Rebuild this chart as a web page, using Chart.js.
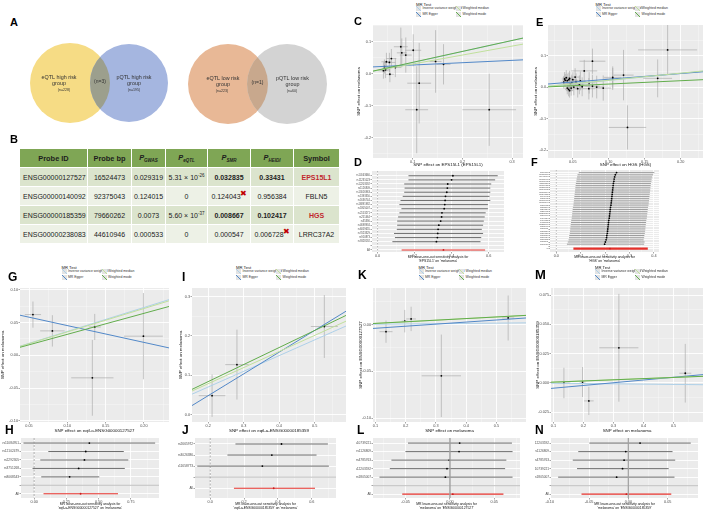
<!DOCTYPE html>
<html>
<head>
<meta charset="utf-8">
<script src="https://cdn.jsdelivr.net/npm/chart.js@4.4.0/dist/chart.umd.min.js"></script>
<style>
body { margin:0; width:708px; height:510px; position:relative; background:#fff; overflow:hidden;
       font-family:"Liberation Sans", Arial, sans-serif; }
canvas { position:absolute; }
.lt { position:absolute; font-weight:bold; font-size:11px; line-height:11px; color:#000; }
#tb { position:absolute; left:19px; top:148px; width:321px; border-collapse:collapse; table-layout:fixed; }
#tb td, #tb th { border:1px solid #fff; text-align:center; font-size:7px; color:#222; padding:0; height:18px; white-space:nowrap; }
#tb th { background:#7fa655; font-weight:bold; font-size:7.4px; color:#1d1d1d; }
#tb tr.o td { background:#dbe4cd; }
#tb tr.e td { background:#edf1e6; }
#tb td.l { text-align:left; padding-left:3px; }
#tb b.red { color:#c1272d; }
#tb .x { color:#c00000; font-size:8px; position:relative; top:-3px; margin-left:-1px; }
#tb sub { font-size:4.5px; font-style:italic; }
#tb sup { font-size:4.5px; }
.leg { position:absolute; width:100px; height:16px; }
.leg div { position:absolute; white-space:nowrap; }
.lgt { font-size:4.2px; color:#222; }
.lgi { font-size:3.4px; color:#333; line-height:5px; }
.lgi span { display:inline-block; width:5px; height:5px; vertical-align:top; margin-right:1.5px; }
</style>
</head>
<body>
<script>
// ---------- data ----------
const vennSets = ['eQTL high risk group', 'pQTL high risk group', 'eQTL low risk group', 'pQTL low risk group'];
const vennN = [228, 195, 223, 60];
const vennShared = [3, 1];

const probeId = ['ENSG00000127527', 'ENSG00000140092', 'ENSG00000185359', 'ENSG00000238083'];
const probeBp = ['16524473', '92375043', '79660262', '44610946'];
const pGwas = ['0.029319', '0.124015', '0.0073', '0.000533'];
const pEqtl = ['5.31 × 10^-26', '0', '5.60 × 10^-37', '0'];
const pSmr = ['0.032835', '0.124043', '0.008667', '0.000547'];
const pHeidi = ['0.33431', '0.956384', '0.102417', '0.006728'];
const symbol = ['EPS15L1', 'FBLN5', 'HGS', 'LRRC37A2'];
const passed = [true, false, true, false];
const failedAt = ['', 'smr', '', 'heidi'];

const MR_METHODS = ['Inverse variance weighted', 'MR Egger', 'Weighted median', 'Weighted mode'];

// C: EPS15L1 -> melanoma
const cX = [0.041, 0.043, 0.045, 0.047, 0.053, 0.057, 0.054, 0.065, 0.076, 0.078, 0.086, 0.101, 0.113, 0.108, 0.146, 0.162, 0.254];
const cY = [0.009, 0.022, 0.012, 0.037, 0.035, 0.047, -0.002, 0.019, 0.084, 0.065, 0.058, 0.073, -0.030, -0.113, 0.038, 0.029, -0.113];
const cXse = [0.010, 0.008, 0.009, 0.010, 0.012, 0.010, 0.008, 0.012, 0.014, 0.010, 0.012, 0.016, 0.024, 0.023, 0.012, 0.014, 0.054];
const cYse = [0.025, 0.022, 0.026, 0.028, 0.030, 0.030, 0.025, 0.030, 0.060, 0.045, 0.055, 0.050, 0.126, 0.136, 0.098, 0.063, 0.113];
const cSlope = [0.345, 0.073, 0.280, 0.342];
const cIcpt = [0.0, 0.0195, 0.002, 0.001];
const cXTicks = [0.1, 0.2, 0.3];
const cYTicks = [-0.2, -0.1, 0.0, 0.1];

// D: leave-one-out EPS15L1
const dSnp = ['rs10163660', 'rs11231023', 'rs12203592', 'rs1126809', 'rs13016963', 'rs1393350', 'rs1636744', 'rs16891982', 'rs1805007',
              'rs2153271', 'rs251464', 'rs35390', 'rs4698934', 'rs6059655', 'rs7023329', 'rs910873', 'rs9328192'];
const dEst = [0.407, 0.400, 0.379, 0.377, 0.374, 0.367, 0.365, 0.363, 0.360, 0.348, 0.346, 0.341, 0.331, 0.327, 0.325, 0.323, 0.318];
const dLo = [0.167, 0.167, 0.144, 0.146, 0.144, 0.136, 0.124, 0.118, 0.129, 0.118, 0.111, 0.106, 0.106, 0.104, 0.089, 0.094, 0.080];
const dHi = [0.649, 0.635, 0.614, 0.609, 0.609, 0.605, 0.609, 0.596, 0.596, 0.584, 0.579, 0.574, 0.570, 0.563, 0.570, 0.560, 0.556];
const dAll = [0.356, 0.130, 0.581];
const dXTicks = [0.0, 0.2, 0.4, 0.6];

// E: HGS -> melanoma
const eX = [0.0373, 0.0386, 0.0395, 0.0409, 0.0423, 0.0445, 0.0455, 0.0423, 0.0441, 0.0455, 0.0465, 0.0477, 0.0486, 0.0500, 0.0514, 0.0532, 0.0545,
            0.0568, 0.0591, 0.0605, 0.0630, 0.0659, 0.0727, 0.0723, 0.0773, 0.0773, 0.0832, 0.0923, 0.1055, 0.1055, 0.1205, 0.1680, 0.1818, 0.1260];
const eY = [0.0164, 0.0267, 0.0225, 0.0308, 0.0215, 0.0246, 0.0287, -0.0020, -0.0062, -0.0103, 0.0105, -0.0020, 0.0144, 0.0245, 0.0010, 0.0328, 0.0185,
            -0.0041, 0.0082, 0.0205, 0.0020, 0.0523, 0.0144, -0.0041, 0.0831, 0.0041, 0.0010, -0.0020, 0.0318, 0.0267, 0.0390, 0.0287, 0.1190, -0.1270];
const eXse = [0.004, 0.004, 0.004, 0.005, 0.004, 0.005, 0.005, 0.004, 0.005, 0.005, 0.005, 0.005, 0.006, 0.006, 0.006, 0.006, 0.007,
              0.007, 0.007, 0.008, 0.008, 0.018, 0.009, 0.009, 0.018, 0.010, 0.010, 0.011, 0.012, 0.012, 0.014, 0.020, 0.041, 0.026];
const eYse = [0.020, 0.022, 0.020, 0.024, 0.022, 0.022, 0.024, 0.020, 0.022, 0.022, 0.020, 0.024, 0.026, 0.024, 0.026, 0.028, 0.026,
              0.028, 0.030, 0.030, 0.030, 0.035, 0.034, 0.034, 0.040, 0.036, 0.036, 0.040, 0.035, 0.035, 0.080, 0.060, 0.079, 0.070];
const eSlope = [0.222, 0.180, 0.226, 0.106];
const eIcpt = [0.0, 0.008, 0.0, 0.0];
const eXTicks = [0.05, 0.10, 0.15, 0.20];
const eYTicks = [-0.2, -0.1, 0.0, 0.1];

// F: leave-one-out HGS
const fSnp = ['rs1004317', 'rs10127301', 'rs10411619', 'rs10758471', 'rs11078405', 'rs11186850', 'rs11616428', 'rs12131618', 'rs12443092',
              'rs12918564', 'rs13147285', 'rs1448498', 'rs1562413', 'rs17001961', 'rs17687249', 'rs1871003', 'rs2013209', 'rs2241234',
              'rs2289702', 'rs28362727', 'rs3760767', 'rs4147534', 'rs4790128', 'rs4925105', 'rs58223766', 'rs6503401', 'rs6565612',
              'rs7208859', 'rs7219851', 'rs7503126', 'rs8070624', 'rs8076313', 'rs9303542', 'rs9895456'];
const fEst = [0.247, 0.242, 0.239, 0.237, 0.236, 0.234, 0.233, 0.232, 0.231, 0.230, 0.229, 0.228, 0.227, 0.226, 0.225, 0.224, 0.222,
              0.221, 0.220, 0.219, 0.218, 0.217, 0.215, 0.214, 0.213, 0.212, 0.211, 0.210, 0.209, 0.207, 0.206, 0.204, 0.201, 0.198];
const fLo = [0.092, 0.087, 0.085, 0.083, 0.082, 0.080, 0.079, 0.078, 0.077, 0.076, 0.075, 0.074, 0.073, 0.072, 0.071, 0.070, 0.068,
             0.067, 0.066, 0.065, 0.064, 0.063, 0.061, 0.060, 0.059, 0.058, 0.057, 0.056, 0.055, 0.053, 0.052, 0.050, 0.047, 0.0435];
const fHi = [0.402, 0.397, 0.393, 0.391, 0.390, 0.388, 0.387, 0.386, 0.385, 0.384, 0.383, 0.382, 0.381, 0.380, 0.379, 0.378, 0.376,
             0.375, 0.374, 0.373, 0.372, 0.371, 0.369, 0.368, 0.367, 0.366, 0.365, 0.364, 0.363, 0.361, 0.360, 0.358, 0.362, 0.360];
const fAll = [0.220, 0.070, 0.375];
const fXTicks = [0.0, 0.1, 0.2, 0.3, 0.4];

// G: eqtl-a-ENSG00000127527 -> melanoma
const gX = [0.0551, 0.0805, 0.1358, 0.1327, 0.1994];
const gY = [0.0623, 0.0374, 0.0434, -0.0344, 0.0293];
const gXse = [0.0106, 0.0160, 0.0080, 0.0276, 0.0254];
const gYse = [0.020, 0.024, 0.020, 0.058, 0.066];
const gSlope = [0.366, -0.257, 0.358, 0.321];
const gIcpt = [0.0, 0.0712, 0.0, 0.0];
const gXTicks = [0.05, 0.10, 0.15, 0.20];
const gYTicks = [-0.10, -0.05, 0.00, 0.05, 0.10];

// H
const hSnp = ['rs11084951', 'rs12102479', 'rs2292305', 'rs3751268', 'rs8068543'];
const hEst = [0.428, 0.400, 0.390, 0.345, 0.275];
const hLo = [-0.0825, 0.110, 0.0475, -0.0125, 0.055];
const hHi = [0.938, 0.695, 0.730, 0.703, 0.505];
const hAll = [0.360, 0.0725, 0.650];
const hXTicks = [0.00, 0.25, 0.50, 0.75];

// I: eqtl-a-ENSG00000185359 -> melanoma
const iX = [0.211, 0.281, 0.527];
const iY = [0.048, 0.127, 0.224];
const iXse = [0.0375, 0.033, 0.038];
const iYse = [0.054, 0.089, 0.080];
const iSlope = [0.400, 0.554, 0.410, 0.434];
const iIcpt = [-0.010, -0.0628, -0.0035, -0.003];
const iXTicks = [0.2, 0.3, 0.4, 0.5];
const iYTicks = [0.0, 0.1, 0.2, 0.3];

// J
const jSnp = ['rs2665972', 'rs3026386', 'rs11658773'];
const jEst = [0.421, 0.364, 0.308];
const jLo = [0.149, 0.1015, -0.0766];
const jHi = [0.695, 0.628, 0.701];
const jAll = [0.375, 0.140, 0.619];
const jXTicks = [0.0, 0.2, 0.4, 0.6];

// K, M: melanoma -> gene (same exposure SNPs)
const kmX = [0.135, 0.197, 0.218, 0.318, 0.539];
const kmXse = [0.0215, 0.010, 0.016, 0.065, 0.020];
const kY = [-0.0076, 0.0036, 0.0060, -0.0547, 0.0070];
const kYse = [0.0119, 0.012, 0.013, 0.044, 0.024];
const kSlope = [0.003, 0.0221, 0.0172, 0.0172];
const kIcpt = [0.0, -0.0062, -0.0005, -0.0005];
const kmXTicks = [0.1, 0.2, 0.3, 0.4, 0.5];
const kYTicks = [-0.10, -0.05, 0.00];
const mY = [0.0, 0.0008, -0.0153, 0.0300, 0.0083];
const mYse = [0.013, 0.0128, 0.012, 0.046, 0.025];
const mSlope = [-0.0025, 0.0233, 0.010, 0.010];
const mIcpt = [0.0, -0.0068, -0.0003, -0.0003];
const mYTicks = [-0.025, 0.000, 0.025, 0.050, 0.075];

// L, N
const lSnp = ['rs10739221', 'rs1126809', 'rs4785763', 'rs12203592', 'rs1805007'];
const lEst = [0.0110, 0.0103, -0.0007, -0.0033, -0.0051];
const lLo = [-0.0473, -0.0502, -0.0660, -0.0678, -0.0795];
const lHi = [0.0700, 0.0707, 0.0637, 0.0623, 0.0707];
const lAll = [0.0033, -0.0538, 0.0604];
const lXTicks = [-0.05, 0.00, 0.05];
const nSnp = ['rs12203592', 'rs1126809', 'rs4785763', 'rs10739221', 'rs1805007'];
const nEst = [0.0149, -0.0033, -0.0054, -0.0074, -0.0149];
const nLo = [-0.0496, -0.0637, -0.0707, -0.0653, -0.0893];
const nHi = [0.0794, 0.0562, 0.0596, 0.0513, 0.0587];
const nAll = [-0.0025, -0.0596, 0.0546];
const nXTicks = [-0.10, -0.05, 0.00, 0.05];

// ---------- styling ----------
const FONT = '"Liberation Sans", Arial, sans-serif';
const MR_COLORS = ['#aed0e8', '#5288c8', '#c0e09c', '#62ad4c'];
const TICK_COL = '#4d4d4d';
Chart.defaults.font.family = FONT;
Chart.defaults.animation = false;
Chart.defaults.responsive = false;
Chart.defaults.plugins.legend.display = false;
Chart.defaults.plugins.tooltip.enabled = false;

function place(x, y, w, h) {
  const c = document.createElement('canvas');
  c.width = w; c.height = h;
  c.style.left = x + 'px'; c.style.top = y + 'px';
  c.style.width = w + 'px'; c.style.height = h + 'px';
  document.body.appendChild(c);
  return c;
}

function fixSize(prop, v) {
  return s => { s[prop] = v; s.paddingLeft = s.paddingRight = s.paddingTop = s.paddingBottom = 0; };
}

function minorOf(t, lo, hi) {
  const st = t[1] - t[0], out = [];
  for (let v = t[0] - st / 2 - st * 10; v <= hi; v += st) if (v >= lo) out.push(v);
  return out;
}

const panelBg = {
  id: 'panelBg',
  beforeDraw(chart) {
    const { ctx, chartArea: a } = chart;
    ctx.save();
    ctx.fillStyle = '#ebebeb';
    ctx.fillRect(a.left, a.top, a.right - a.left, a.bottom - a.top);
    ctx.restore();
  }
};

// error bars / intervals, drawn under the points
const errBars = {
  id: 'errBars',
  beforeDatasetsDraw(chart) {
    const { ctx, chartArea: a } = chart;
    const sx = chart.scales.x, sy = chart.scales.y;
    ctx.save();
    ctx.beginPath(); ctx.rect(a.left, a.top, a.right - a.left, a.bottom - a.top); ctx.clip();
    chart.data.datasets.forEach(ds => {
      const b = ds.bars;
      if (!b) return;
      ctx.strokeStyle = ds.barColor; ctx.lineWidth = ds.barWidth;
      ds.data.forEach((p, i) => {
        ctx.beginPath();
        const X = sx.getPixelForValue(p.x), Y = sy.getPixelForValue(p.y);
        if (b.xe) { ctx.moveTo(sx.getPixelForValue(p.x - b.xe[i]), Y); ctx.lineTo(sx.getPixelForValue(p.x + b.xe[i]), Y); }
        if (b.ye) { ctx.moveTo(X, sy.getPixelForValue(p.y - b.ye[i])); ctx.lineTo(X, sy.getPixelForValue(p.y + b.ye[i])); }
        if (b.lo) { ctx.moveTo(sx.getPixelForValue(b.lo[i]), Y); ctx.lineTo(sx.getPixelForValue(b.hi[i]), Y); }
        ctx.stroke();
      });
    });
    ctx.restore();
  }
};

function gridCfg() {
  return { color: '#ffffff', lineWidth: 0.9, tickColor: TICK_COL, tickLength: 1.5, tickWidth: 0.5 };
}

function axisX(xr, ticks, dec, title, h, tsize) {
  return {
    type: 'linear', position: 'bottom', min: xr[0], max: xr[1],
    afterBuildTicks: s => { s.ticks = ticks.map(v => ({ value: v })); },
    afterFit: fixSize('height', h),
    grid: gridCfg(), border: { display: false },
    ticks: { font: { size: 3.8 }, color: TICK_COL, padding: 0.5, maxRotation: 0, autoSkip: false,
             callback: v => v.toFixed(dec) },
    title: { display: true, text: title, color: '#111', font: { size: tsize || 4.4, lineHeight: 1.1 }, padding: 0 }
  };
}

function axisMinor(xr, ticks, pos) {
  const m = minorOf(ticks, xr[0], xr[1]);
  return {
    type: 'linear', position: pos, min: xr[0], max: xr[1], display: true,
    afterBuildTicks: s => { s.ticks = m.map(v => ({ value: v })); },
    afterFit: fixSize(pos === 'bottom' ? 'height' : 'width', 0),
    grid: { color: 'rgba(255,255,255,0.75)', lineWidth: 0.45, drawTicks: false },
    border: { display: false }, ticks: { display: false }
  };
}

function mrScatter(o) {
  const c = place(o.x, o.y, o.w, o.h);
  const ds = MR_METHODS.map((m, i) => ({
    label: m,
    data: [{ x: o.xr[0], y: o.icpt[i] + o.slope[i] * o.xr[0] }, { x: o.xr[1], y: o.icpt[i] + o.slope[i] * o.xr[1] }],
    showLine: true, borderColor: MR_COLORS[i], borderWidth: 1, pointRadius: 0, order: 4 - i
  }));
  ds.push({
    data: o.px.map((x, i) => ({ x, y: o.py[i] })), bars: { xe: o.xe, ye: o.ye },
    barColor: '#a3a3a3', barWidth: 0.6, pointRadius: 0.9, pointBackgroundColor: '#000', pointBorderWidth: 0, order: 10
  });
  new Chart(c, {
    type: 'scatter',
    data: { datasets: ds },
    options: {
      layout: { padding: 0 },
      scales: {
        x: axisX(o.xr, o.xt, o.xd, o.xTitle, o.xh),
        x2: axisMinor(o.xr, o.xt, 'bottom'),
        y: {
          type: 'linear', position: 'left', min: o.yr[0], max: o.yr[1],
          afterBuildTicks: s => { s.ticks = o.yt.map(v => ({ value: v })); },
          afterFit: fixSize('width', o.yw),
          grid: gridCfg(), border: { display: false },
          ticks: { font: { size: 3.8 }, color: TICK_COL, padding: 0.5, callback: v => v.toFixed(o.yd) },
          title: { display: true, text: o.yTitle, color: '#111', font: { size: 4.4 }, padding: 0 }
        },
        y2: axisMinor(o.yr, o.yt, 'left')
      }
    },
    plugins: [panelBg, errBars]
  });
}

function forest(o) {
  const c = place(o.x, o.y, o.w, o.h);
  const labels = o.snp.concat(o.gap ? [''] : [], ['All']);
  const allRow = labels.length - 1;
  const ds = [
    { data: o.est.map((v, i) => ({ x: v, y: i })), bars: { lo: o.lo, hi: o.hi }, barColor: '#5c5c5c', barWidth: o.bw || 0.9,
      pointRadius: 0.9, pointBackgroundColor: '#000', pointBorderWidth: 0, order: 6 },
    { data: [{ x: o.all[0], y: allRow }], bars: { lo: [o.all[1]], hi: [o.all[2]] }, barColor: '#e5302b', barWidth: o.aw || 1.1,
      pointRadius: 0.9, pointBackgroundColor: '#c81e1e', pointBorderWidth: 0, order: 5 }
  ];
  if (o.sep) ds.push({ data: [{ x: o.xr[0], y: allRow - 1 }, { x: o.xr[1], y: allRow - 1 }], showLine: true,
                       borderColor: '#a8a8a8', borderWidth: 0.7, pointRadius: 0, order: 4 });
  ds.push({ data: [{ x: 0, y: o.yr[0] }, { x: 0, y: o.yr[1] }], showLine: true, borderColor: o.zc, borderWidth: 0.7,
            borderDash: o.dash, pointRadius: 0, order: 3 });
  new Chart(c, {
    type: 'scatter',
    data: { datasets: ds },
    options: {
      layout: { padding: 0 },
      scales: {
        x: axisX(o.xr, o.xt, o.xd, o.title, o.xh, 3.4),
        x2: axisMinor(o.xr, o.xt, 'bottom'),
        y: {
          type: 'linear', position: 'left', reverse: true, min: o.yr[0], max: o.yr[1],
          afterBuildTicks: s => { s.ticks = labels.map((l, i) => ({ value: i })); },
          afterFit: fixSize('width', o.yw),
          grid: gridCfg(), border: { display: false },
          ticks: { font: { size: o.ls || 3.2 }, color: TICK_COL, padding: 0.5, autoSkip: false, callback: v => labels[v] }
        }
      }
    },
    plugins: [panelBg, errBars]
  });
}

function mrLegend(x, y, dx) {
  const d = document.createElement('div');
  d.className = 'leg'; d.style.left = x + 'px'; d.style.top = y + 'px';
  let h = '<div class="lgt" style="left:0;top:0">MR Test</div>';
  const pos = [[0, 4.3], [0, 10], [dx, 4.3], [dx, 10]];
  MR_METHODS.forEach((m, i) => {
    const col = MR_COLORS[i];
    h += '<div class="lgi" style="left:' + pos[i][0] + 'px;top:' + pos[i][1] + 'px"><span style="background:linear-gradient(to top right,#e3e3e3 calc(50% - 0.6px),' +
         col + ' 50%,#e3e3e3 calc(50% + 0.6px))"></span>' + m + '</div>';
  });
  d.innerHTML = h;
  document.body.appendChild(d);
}

function letter(t, x, y, size) {
  const d = document.createElement('div');
  d.className = 'lt'; d.textContent = t;
  d.style.left = x + 'px'; d.style.top = y + 'px';
  if (size) { d.style.fontSize = size + 'px'; d.style.lineHeight = size + 'px'; }
  document.body.appendChild(d);
}

// ---------- A: Venn diagrams ----------
const vennLayout = { cx: [70, 129, 228, 287], cy: [83, 83, 84, 84], r: [40, 39, 40, 40],
                     fill: ['#f6dc85', '#a5b6e0', '#e8b896', '#d3d3d3'], shared: ['#9c9f8d', '#c8a88d'],
                     tdx: [-11, 5, -5, 5.5], ndx: [-6, 5, -6, 5] };
const vennText = {
  id: 'vennText',
  afterDatasetsDraw(chart) {
    const ctx = chart.ctx, els = chart.getDatasetMeta(0).data;
    ctx.save();
    [[0, 1], [2, 3]].forEach((pr, k) => {
      const a = els[pr[0]], b = els[pr[1]];
      ctx.save();
      ctx.beginPath(); ctx.arc(a.x, a.y, a.options.radius, 0, Math.PI * 2); ctx.clip();
      ctx.beginPath(); ctx.arc(b.x, b.y, b.options.radius, 0, Math.PI * 2);
      ctx.fillStyle = vennLayout.shared[k]; ctx.fill();
      ctx.restore();
      ctx.fillStyle = '#333'; ctx.textAlign = 'center'; ctx.textBaseline = 'middle';
      ctx.font = '5px ' + FONT;
      ctx.fillText('(n=' + vennShared[k] + ')', ((a.x + a.options.radius) + (b.x - b.options.radius)) / 2, a.y - 1.5);
    });
    els.forEach((e, i) => {
      const name = vennSets[i], cut = name.lastIndexOf(' ');
      ctx.fillStyle = '#333'; ctx.textAlign = 'center'; ctx.textBaseline = 'middle';
      ctx.font = '5.4px ' + FONT;
      ctx.fillText(name.slice(0, cut), e.x + vennLayout.tdx[i], e.y - 5.7);
      ctx.fillText(name.slice(cut + 1), e.x + vennLayout.tdx[i], e.y + 0.3);
      ctx.font = '3.6px ' + FONT;
      ctx.fillText('(n=' + vennN[i] + ')', e.x + vennLayout.ndx[i], e.y + 7);
    });
    ctx.restore();
  }
};
new Chart(place(0, 40, 350, 95), {
  type: 'bubble',
  data: { datasets: [{
    data: vennN.map((n, i) => ({ x: vennLayout.cx[i], y: vennLayout.cy[i], r: vennLayout.r[i] })),
    backgroundColor: vennLayout.fill, borderWidth: 0, clip: false
  }] },
  options: {
    layout: { padding: 0, autoPadding: false },
    scales: { x: { display: false, min: 0, max: 350 }, y: { display: false, min: 40, max: 135, reverse: true } }
  },
  plugins: [vennText]
});

// ---------- B: table ----------
(function () {
  const t = document.createElement('table'); t.id = 'tb';
  const widths = [68, 44, 34, 42, 43, 43, 46];
  let h = '<colgroup>' + widths.map(w => '<col style="width:' + w + 'px">').join('') + '</colgroup>';
  h += '<tr><th>Probe ID</th><th>Probe bp</th><th><i>P</i><sub>GWAS</sub></th><th><i>P</i><sub>eQTL</sub></th>' +
       '<th><i>P</i><sub>SMR</sub></th><th><i>P</i><sub>HEIDI</sub></th><th>Symbol</th></tr>';
  const pw = s => s.replace(/\^(-?\d+)/, '<sup>$1</sup>');
  probeId.forEach((id, i) => {
    const x = '<span class="x">✖</span>';
    const smr = passed[i] ? '<b>' + pSmr[i] + '</b>' : pSmr[i] + (failedAt[i] === 'smr' ? x : '');
    const hei = passed[i] ? '<b>' + pHeidi[i] + '</b>' : pHeidi[i] + (failedAt[i] === 'heidi' ? x : '');
    const sym = passed[i] ? '<b class="red">' + symbol[i] + '</b>' : symbol[i];
    h += '<tr class="' + (i % 2 ? 'e' : 'o') + '"><td class="l">' + id + '</td><td>' + probeBp[i] + '</td><td>' + pGwas[i] +
         '</td><td>' + pw(pEqtl[i]) + '</td><td>' + smr + '</td><td>' + hei + '</td><td>' + sym + '</td></tr>';
  });
  t.innerHTML = h;
  document.body.appendChild(t);
})();

// ---------- scatter panels ----------
mrScatter({ x: 356, y: 21, w: 171, h: 146, yw: 17, xh: 9, xr: [0.02, 0.322], yr: [-0.264, 0.152],
  xt: cXTicks, xd: 1, yt: cYTicks, yd: 1, xTitle: 'SNP effect on EPS15L1 (EPS15L1)', yTitle: 'SNP effect on melanoma',
  px: cX, py: cY, xe: cXse, ye: cYse, slope: cSlope, icpt: cIcpt });
mrScatter({ x: 533, y: 21, w: 174, h: 146, yw: 15, xh: 9, xr: [0.0155, 0.231], yr: [-0.224, 0.198],
  xt: eXTicks, xd: 2, yt: eYTicks, yd: 1, xTitle: 'SNP effect on HGS (HGS)', yTitle: 'SNP effect on melanoma',
  px: eX, py: eY, xe: eXse, ye: eYse, slope: eSlope, icpt: eIcpt });
mrScatter({ x: 0, y: 284, w: 173, h: 149, yw: 20, xh: 11, xr: [0.0382, 0.2328], yr: [-0.102, 0.103],
  xt: gXTicks, xd: 2, yt: gYTicks, yd: 2, xTitle: 'SNP effect on eqtl-a-ENSG00000127527', yTitle: 'SNP effect on melanoma',
  px: gX, py: gY, xe: gXse, ye: gYse, slope: gSlope, icpt: gIcpt });
mrScatter({ x: 178, y: 284, w: 172, h: 149, yw: 14, xh: 11, xr: [0.1545, 0.588], yr: [-0.019, 0.322],
  xt: iXTicks, xd: 1, yt: iYTicks, yd: 1, xTitle: 'SNP effect on eqtl-a-ENSG00000185359', yTitle: 'SNP effect on melanoma',
  px: iX, py: iY, xe: iXse, ye: iYse, slope: iSlope, icpt: iIcpt });
mrScatter({ x: 358, y: 284, w: 172, h: 149, yw: 15, xh: 11, xr: [0.092, 0.598], yr: [-0.104, 0.039],
  xt: kmXTicks, xd: 1, yt: kYTicks, yd: 2, xTitle: 'SNP effect on melanoma', yTitle: 'SNP effect on ENSG00000127527',
  px: kmX, py: kY, xe: kmXse, ye: kYse, slope: kSlope, icpt: kIcpt });
mrScatter({ x: 535, y: 284, w: 172, h: 149, yw: 16, xh: 11, xr: [0.092, 0.598], yr: [-0.0333, 0.081],
  xt: kmXTicks, xd: 1, yt: mYTicks, yd: 3, xTitle: 'SNP effect on melanoma', yTitle: 'SNP effect on ENSG00000185359',
  px: kmX, py: mY, xe: kmXse, ye: mYse, slope: mSlope, icpt: mIcpt });

// ---------- forest / leave-one-out panels ----------
const LOO = 'MR leave-one-out sensitivity analysis for';
forest({ x: 355, y: 167, w: 153, h: 96, yw: 17, xh: 11, xr: [-0.03, 0.683], yr: [-1.15, 18.5], xt: dXTicks, xd: 1,
  snp: dSnp, est: dEst, lo: dLo, hi: dHi, all: dAll, gap: true, sep: false, zc: '#9a9a9a', dash: [1.5, 1.5],
  title: [LOO, "'EPS15L1' on 'melanoma'"], ls: 2.6 });
forest({ x: 533, y: 166, w: 130, h: 97, yw: 17, xh: 11, xr: [-0.026, 0.421], yr: [-1.2, 36.6], xt: fXTicks, xd: 1,
  snp: fSnp, est: fEst, lo: fLo, hi: fHi, all: fAll, gap: true, sep: false, zc: '#9a9a9a', dash: [1.5, 1.5],
  title: [LOO, "'HGS' on 'melanoma'"], ls: 1.7, bw: 0.6, aw: 2.2 });
forest({ x: 0, y: 434, w: 163, h: 76, yw: 21, xh: 12, xr: [-0.102, 0.968], yr: [-0.6, 6.5], xt: hXTicks, xd: 2,
  snp: hSnp, est: hEst, lo: hLo, hi: hHi, all: hAll, gap: true, sep: true, zc: '#8a8a8a', dash: [2, 1.5],
  title: [LOO, "'eqtl-a-ENSG00000127527' on 'melanoma'"] });
forest({ x: 178, y: 434, w: 162, h: 76, yw: 17, xh: 12, xr: [-0.09, 0.743], yr: [-0.54, 4.88], xt: jXTicks, xd: 1,
  snp: jSnp, est: jEst, lo: jLo, hi: jHi, all: jAll, gap: true, sep: true, zc: '#8a8a8a', dash: [2, 1.5],
  title: [LOO, "'eqtl-a-ENSG00000185359' on 'melanoma'"] });
forest({ x: 356, y: 434, w: 168, h: 76, yw: 17, xh: 12, xr: [-0.0868, 0.0791], yr: [-0.6, 6.45], xt: lXTicks, xd: 2,
  snp: lSnp, est: lEst, lo: lLo, hi: lHi, all: lAll, gap: true, sep: true, zc: '#a0a0a0', dash: [],
  title: [LOO, "'melanoma' on 'ENSG00000127527'"] });
forest({ x: 535, y: 434, w: 167, h: 76, yw: 16, xh: 12, xr: [-0.0984, 0.0886], yr: [-0.6, 6.45], xt: nXTicks, xd: 2,
  snp: nSnp, est: nEst, lo: nLo, hi: nHi, all: nAll, gap: true, sep: true, zc: '#a0a0a0', dash: [],
  title: [LOO, "'melanoma' on 'ENSG00000185359'"] });

// ---------- legends and panel letters ----------
mrLegend(416, 1.5, 40);
mrLegend(595.5, 1.5, 39.5);
mrLegend(61.5, 265, 40);
mrLegend(236, 265, 40);
mrLegend(418.5, 265, 40.5);
mrLegend(595, 265, 40);

letter('A', 10, 16.5); letter('B', 10, 133.5);
letter('C', 354, 15.5); letter('E', 536, 16.5);
letter('D', 354, 156.5); letter('F', 531, 156.5);
letter('G', 8, 270.5, 12); letter('I', 182, 270.5, 12);
letter('K', 358, 268.5, 12); letter('M', 535, 267.5, 13);
letter('H', 5, 423.5, 12); letter('J', 182, 423.5, 12);
letter('L', 357, 423.5, 12); letter('N', 535, 423.5, 12);
</script>
</body>
</html>
